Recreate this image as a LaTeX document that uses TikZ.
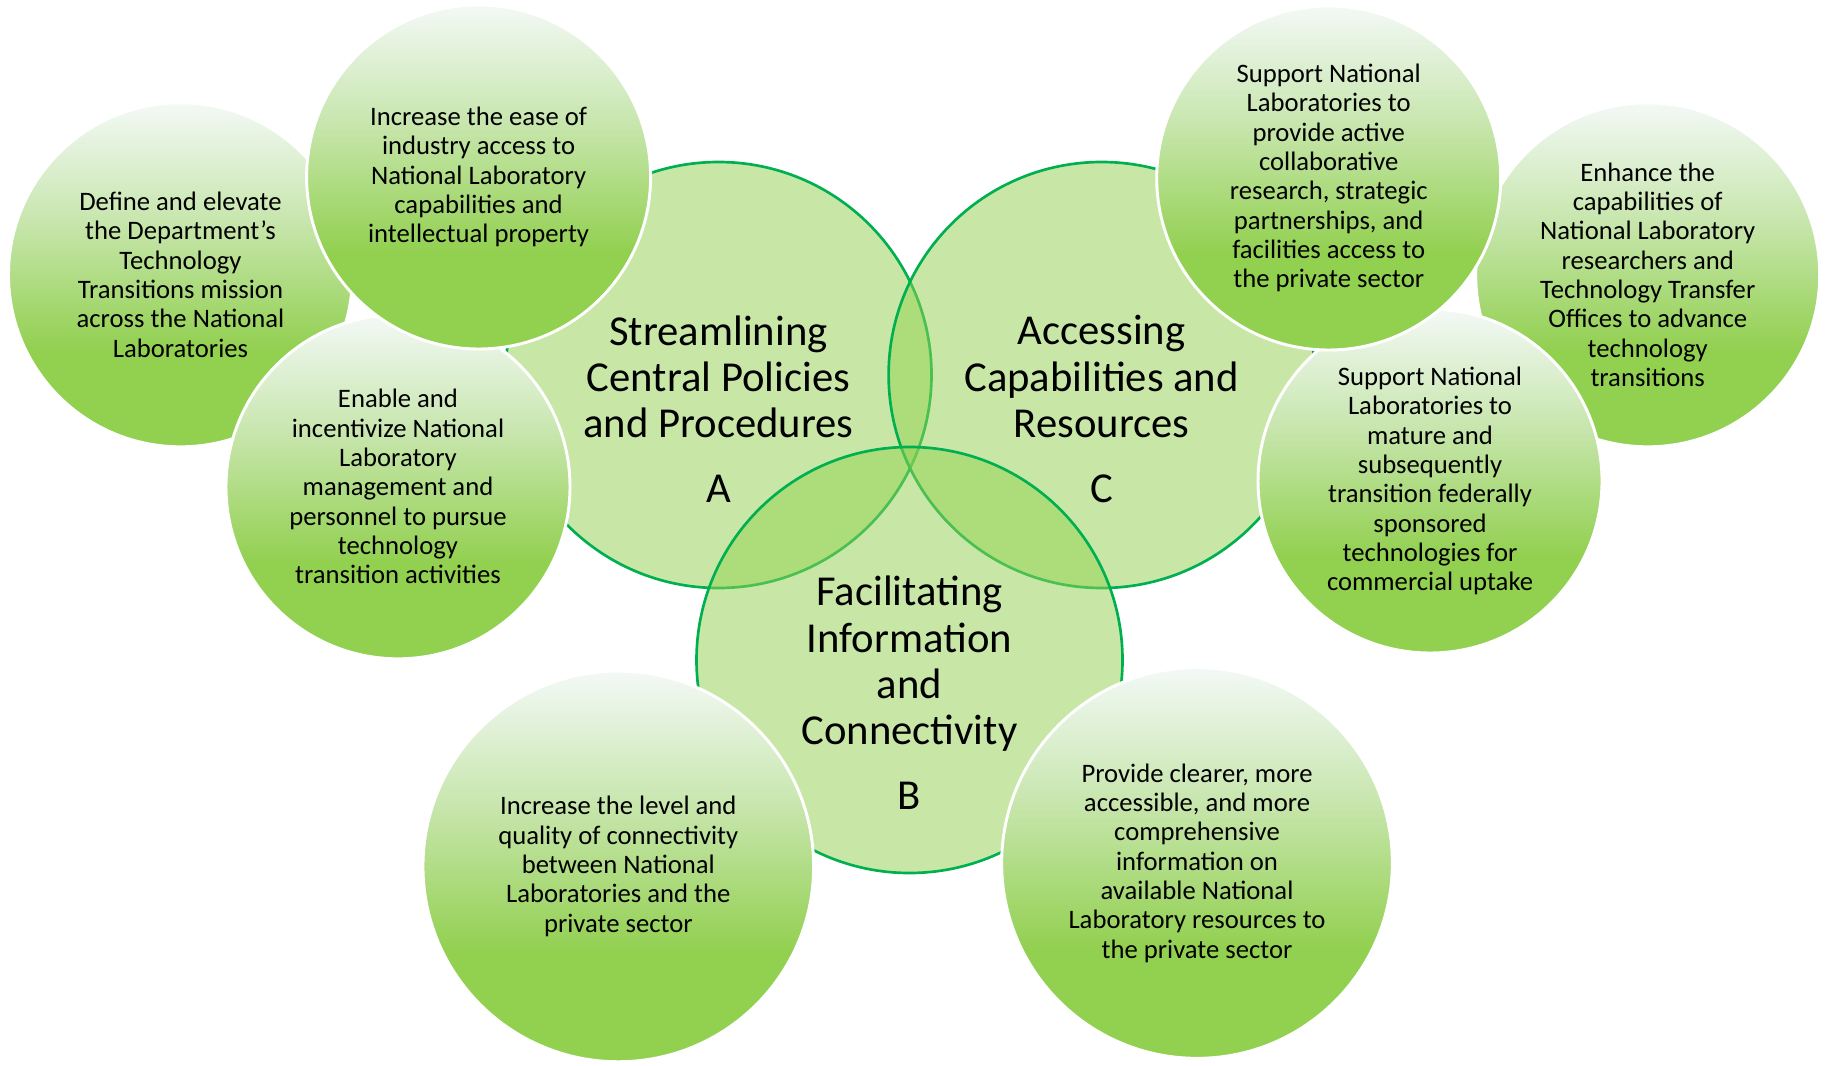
\documentclass[tikz,border=0pt]{standalone}
\usepackage{fontspec}
\setmainfont{Carlito}
\definecolor{bigfill}{HTML}{92D050}
\definecolor{bigline}{HTML}{00B050}
\definecolor{sgtop}{RGB}{243,249,246}
\definecolor{sgmid}{RGB}{200,230,174}
\definecolor{sgbot}{HTML}{92D050}
\pgfdeclareverticalshading{smallg}{100bp}{color(0bp)=(sgbot); color(25bp)=(sgbot); color(39bp)=(sgbot); color(58bp)=(sgmid); color(75bp)=(sgtop); color(100bp)=(sgtop)}
\begin{document}
\begin{tikzpicture}[x=0.75pt,y=-0.75pt,
  bigc/.style={circle, minimum size=319.5pt, inner sep=0pt, fill=bigfill, fill opacity=0.5, draw=bigline, line width=2pt},
  bigtext/.style={align=center, font=\fontsize{32}{34.7}\selectfont, inner sep=0pt},
  smallc/.style={circle, minimum size=258pt, inner sep=0pt, shading=smallg, draw=white, line width=2.2pt, align=center, font=\fontsize{20}{22}\selectfont},
  lowc/.style={smallc, minimum size=293pt}]
\useasboundingbox (0,0) rectangle (1826,1066);
% big Venn circles
\node[bigc] (A) at (718.5,375) {};
\node[bigc] (C) at (1101.6,375) {};
\node[bigc] (B) at (909.5,660) {};
\node[bigtext] (At) at (718.5,409) {Streamlining\\Central Policies\\and Procedures\\[14pt]A};
\node[bigtext] (Ct) at (1101.6,409) {Accessing\\Capabilities and\\Resources\\[14pt]C};
\node[bigtext] (Bt) at (909.5,693) {Facilitating\\Information\\and\\Connectivity\\[14pt]B};
% left group
\node[smallc] (s1) at (180.5,274.8) {Define and elevate\\the Department’s\\Technology\\Transitions mission\\across the National\\Laboratories};
\node[smallc] (s3) at (398,486.8) {Enable and\\incentivize National\\Laboratory\\management and\\personnel to pursue\\technology\\transition activities};
\node[smallc] (s2) at (478.6,177) {Increase the ease of\\industry access to\\National Laboratory\\capabilities and\\intellectual property};
% right group
\node[smallc] (s5) at (1647.7,274.8) {Enhance the\\capabilities of\\National Laboratory\\researchers and\\Technology Transfer\\Offices to advance\\technology\\transitions};
\node[smallc] (s6) at (1430,481) {Support National\\Laboratories to\\mature and\\subsequently\\transition federally\\sponsored\\technologies for\\commercial uptake};
\node[smallc] (s4) at (1328.7,178) {Support National\\Laboratories to\\provide active\\collaborative\\research, strategic\\partnerships, and\\facilities access to\\the private sector};
% bottom group
\node[lowc] (s7) at (618.3,866.4) {Increase the level and\\quality of connectivity\\between National\\Laboratories and the\\private sector};
\node[lowc] (s8) at (1197,863) {Provide clearer, more\\accessible, and more\\comprehensive\\information on\\available National\\Laboratory resources to\\the private sector};
\end{tikzpicture}
\end{document}
